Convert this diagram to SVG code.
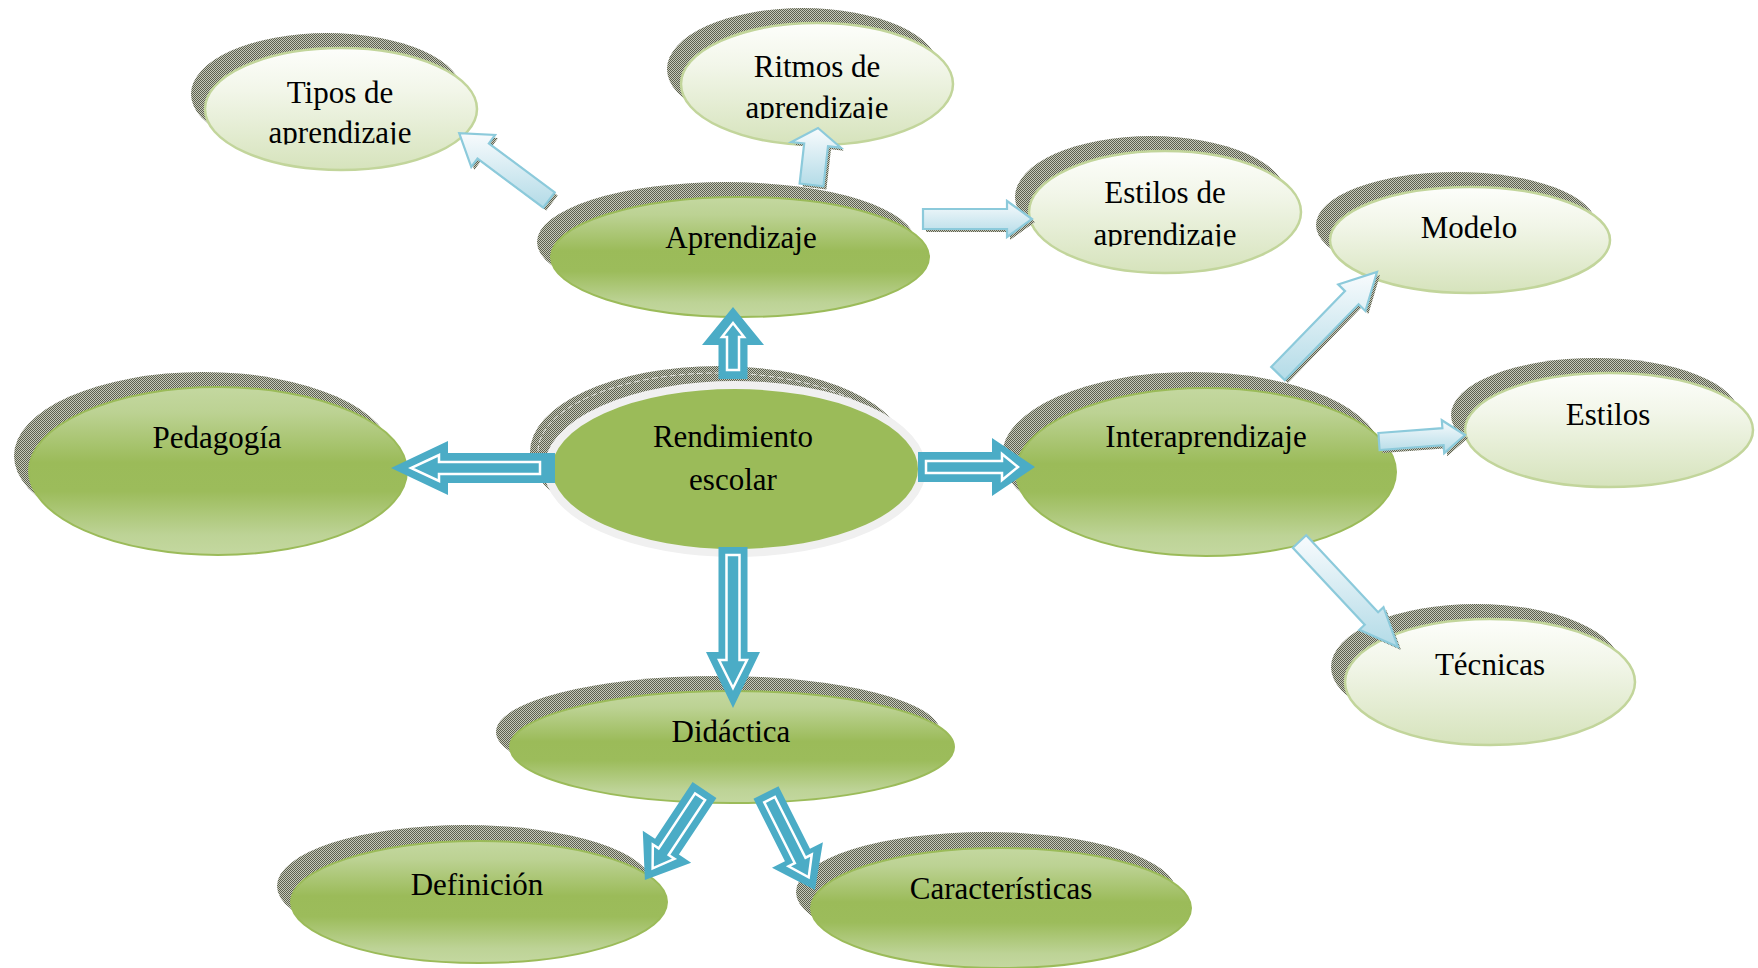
<svg xmlns="http://www.w3.org/2000/svg" width="1758" height="968" viewBox="0 0 1758 968">
<defs>
<linearGradient id="gGreen" x1="0" y1="0" x2="0" y2="1">
<stop offset="0" stop-color="#c4d8a0"/><stop offset="0.15" stop-color="#bcd293"/><stop offset="0.45" stop-color="#9bbb59"/><stop offset="0.62" stop-color="#9cbc5b"/><stop offset="0.88" stop-color="#bdd396"/><stop offset="1" stop-color="#c4d8a0"/>
</linearGradient>
<linearGradient id="gLight" x1="0" y1="0" x2="0" y2="1">
<stop offset="0" stop-color="#fdfefb"/><stop offset="0.35" stop-color="#f2f6e9"/><stop offset="1" stop-color="#d6e3bc"/>
</linearGradient>
<linearGradient id="gBlue" x1="0" y1="0" x2="0" y2="1">
<stop offset="0" stop-color="#f8fbfd"/><stop offset="1" stop-color="#b3dbe7"/>
</linearGradient>
<pattern id="dots" width="2" height="2" patternUnits="userSpaceOnUse">
<rect width="2" height="2" fill="#c6c9ba"/><rect width="1" height="1" fill="#5d6050"/><rect x="1" y="1" width="1" height="1" fill="#5d6050"/>
</pattern>
<clipPath id="cTipos"><rect x="150" y="0" width="350" height="144.5"/></clipPath>
<clipPath id="cRitmos"><rect x="650" y="0" width="350" height="119"/></clipPath>
<clipPath id="cEstilosDe"><rect x="1000" y="120" width="350" height="126.5"/></clipPath>
<style>
.sh{fill:url(#dots)}
.lt{fill:url(#gLight);stroke:#c2d59b;stroke-width:2.5}
.gr{fill:url(#gGreen);stroke:#9bbb59;stroke-width:2}
.t{font-family:"Liberation Serif","Times New Roman",serif;font-size:31px;fill:#000;text-anchor:middle}
.big{fill:#4bacc6}
.inner{fill:#4bacc6;stroke:#fff;stroke-width:2.5;stroke-linejoin:miter}
.la{fill:url(#gBlue);stroke:#8ccadb;stroke-width:2.2;stroke-linejoin:miter}
.las{fill:url(#dots)}
</style>
</defs>
<rect width="1758" height="968" fill="#fff"/>

<g id="node-tipos">
<ellipse class="sh" cx="327" cy="94" rx="136" ry="61"/>
<ellipse class="lt" cx="341" cy="109" rx="136" ry="61"/>
<g clip-path="url(#cTipos)"><text class="t" x="340" y="103">Tipos de</text><text class="t" x="340" y="143">aprendizaje</text></g>
</g>

<g id="node-ritmos">
<ellipse class="sh" cx="803" cy="69" rx="136" ry="61"/>
<ellipse class="lt" cx="817" cy="84" rx="136" ry="61"/>
<g clip-path="url(#cRitmos)"><text class="t" x="817" y="77">Ritmos de</text><text class="t" x="817" y="117.5">aprendizaje</text></g>
</g>

<g id="node-estilos-de-aprendizaje">
<ellipse class="sh" cx="1151" cy="197" rx="136" ry="61"/>
<ellipse class="lt" cx="1165" cy="212" rx="136" ry="61"/>
<g clip-path="url(#cEstilosDe)"><text class="t" x="1165" y="203">Estilos de</text><text class="t" x="1165" y="245">aprendizaje</text></g>
</g>

<g id="node-aprendizaje">
<ellipse class="sh" cx="726" cy="242" rx="189" ry="60"/>
<ellipse class="gr" cx="740" cy="257" rx="189" ry="60"/>
<text class="t" x="741" y="248">Aprendizaje</text>
</g>

<g id="node-modelo">
<ellipse class="sh" cx="1456" cy="225" rx="140" ry="53"/>
<ellipse class="lt" cx="1470" cy="240" rx="140" ry="53"/>
<text class="t" x="1469" y="238">Modelo</text>
</g>

<g id="node-estilos">
<ellipse class="sh" cx="1595" cy="415" rx="144" ry="57"/>
<ellipse class="lt" cx="1609" cy="430" rx="144" ry="57"/>
<text class="t" x="1608" y="425">Estilos</text>
</g>

<g id="node-interaprendizaje">
<ellipse class="sh" cx="1192" cy="456" rx="190" ry="84"/>
<ellipse class="gr" cx="1206" cy="472" rx="190" ry="84"/>
<text class="t" x="1206" y="447">Interaprendizaje</text>
</g>

<g id="node-tecnicas">
<ellipse class="sh" cx="1476" cy="667" rx="145" ry="63"/>
<ellipse class="lt" cx="1490" cy="682" rx="145" ry="63"/>
<text class="t" x="1490" y="675">Técnicas</text>
</g>

<g id="node-pedagogia">
<ellipse class="sh" cx="203" cy="456" rx="189" ry="84"/>
<ellipse class="gr" cx="218" cy="471" rx="189" ry="84"/>
<text class="t" x="217" y="448">Pedagogía</text>
</g>

<g id="node-rendimiento">
<ellipse class="sh" cx="718" cy="452" rx="188" ry="86"/>
<ellipse cx="718" cy="452" rx="180" ry="79" fill="none" stroke="#fff" stroke-width="1" stroke-dasharray="6 3" opacity="0.7"/>
<ellipse cx="735" cy="469" rx="187" ry="84" fill="#9bbb59" stroke="#f0f0f0" stroke-width="8"/>
<text class="t" x="733" y="447">Rendimiento</text>
<text class="t" x="733" y="490">escolar</text>
</g>

<g id="node-didactica">
<ellipse class="sh" cx="718" cy="732" rx="222" ry="56"/>
<ellipse class="gr" cx="732" cy="747" rx="222" ry="56"/>
<text class="t" x="731" y="742">Didáctica</text>
</g>

<g id="node-definicion">
<ellipse class="sh" cx="465" cy="886" rx="188" ry="61"/>
<ellipse class="gr" cx="479" cy="902" rx="188" ry="61"/>
<text class="t" x="477" y="895">Definición</text>
</g>

<g id="node-caracteristicas">
<ellipse class="sh" cx="986" cy="892" rx="190" ry="60"/>
<ellipse class="gr" cx="1001" cy="908" rx="190" ry="60"/>
<text class="t" x="1001" y="899">Características</text>
</g>

<g id="connectors">
<!-- big blue arrows -->
<g transform="translate(733,379) rotate(-90)">
<polygon class="big" points="0,-14.5 34,-14.5 34,-31 72,0 34,31 34,14.5 0,14.5"/>
<polygon class="inner" points="9,-6 42,-6 42,-11 56,0 42,11 42,6 9,6"/>
</g>
<g transform="translate(555,468) rotate(180)">
<polygon class="big" points="0,-15 107,-15 107,-27 164,0 107,27 107,15 0,15"/>
<polygon class="inner" points="15,-6 116,-6 116,-13 144,0 116,13 116,6 15,6"/>
</g>
<g transform="translate(918,467)">
<polygon class="big" points="0,-15 74,-15 74,-29 117,0 74,29 74,15 0,15"/>
<polygon class="inner" points="8,-6 84,-6 84,-13 100,0 84,13 84,6 8,6"/>
</g>
<g transform="translate(733,547) rotate(90)">
<polygon class="big" points="0,-14.5 105,-14.5 105,-27 161,0 105,27 105,14.5 0,14.5"/>
<polygon class="inner" points="8,-6.5 113,-6.5 113,-14 141,0 113,14 113,6.5 8,6.5"/>
</g>
<g transform="translate(704.5,790) rotate(123.5)">
<polygon class="big" points="0,-14.3 68,-14.3 68,-29 108,0 68,29 68,14.3 0,14.3"/>
<polygon class="inner" points="8,-6 74,-6 74,-13 94,0 74,13 74,6 8,6"/>
</g>
<g transform="translate(766,792.5) rotate(63.3)">
<polygon class="big" points="0,-14 70,-14 70,-28.5 109,0 70,28.5 70,14 0,14"/>
<polygon class="inner" points="8,-6 76,-6 76,-13 95,0 76,13 76,6 8,6"/>
</g>
<!-- light arrows -->
<g id="arrow-tipos">
<polygon class="las" transform="translate(3,3)" points="554.7,192.4 488.9,143.4 495.1,135.0 459.2,133.1 471.3,167.0 477.5,158.6 543.3,207.6"/>
<polygon class="la" points="554.7,192.4 488.9,143.4 495.1,135.0 459.2,133.1 471.3,167.0 477.5,158.6 543.3,207.6"/>
</g>
<g id="arrow-ritmos">
<polygon class="las" transform="translate(3,3)" points="799.6,183.6 804.2,143.5 791.3,142.1 818,128 840.9,147.7 828.0,146.3 823.4,186.4"/>
<polygon class="la" points="799.6,183.6 804.2,143.5 791.3,142.1 818,128 840.9,147.7 828.0,146.3 823.4,186.4"/>
</g>
<g id="arrow-estilos-de">
<polygon class="las" transform="translate(3,3)" points="923,209 1007,209 1007,201 1032,219 1007,237 1007,229 923,229"/>
<polygon class="la" points="923,209 1007,209 1007,201 1032,219 1007,237 1007,229 923,229"/>
</g>
<g id="arrow-modelo">
<polygon class="las" transform="translate(3,3)" points="1271.2,366.9 1345.0,291.1 1338.2,284.4 1377,272 1365.4,311.0 1358.6,304.3 1284.8,380.1"/>
<polygon class="la" points="1271.2,366.9 1345.0,291.1 1338.2,284.4 1377,272 1365.4,311.0 1358.6,304.3 1284.8,380.1"/>
</g>
<g id="arrow-estilos">
<polygon class="las" transform="translate(3,3)" points="1378.4,433.0 1442.4,428.2 1441.8,420.2 1465,435 1444.2,453.2 1443.6,445.2 1379.6,450.0"/>
<polygon class="la" points="1378.4,433.0 1442.4,428.2 1441.8,420.2 1465,435 1444.2,453.2 1443.6,445.2 1379.6,450.0"/>
</g>
<g id="arrow-tecnicas">
<polygon class="las" transform="translate(3,3)" points="1306.2,535.2 1378.1,612.2 1383.5,607.2 1398,647 1359.3,629.8 1364.7,624.8 1292.8,547.8"/>
<polygon class="la" points="1306.2,535.2 1378.1,612.2 1383.5,607.2 1398,647 1359.3,629.8 1364.7,624.8 1292.8,547.8"/>
</g>
</g>
</svg>
